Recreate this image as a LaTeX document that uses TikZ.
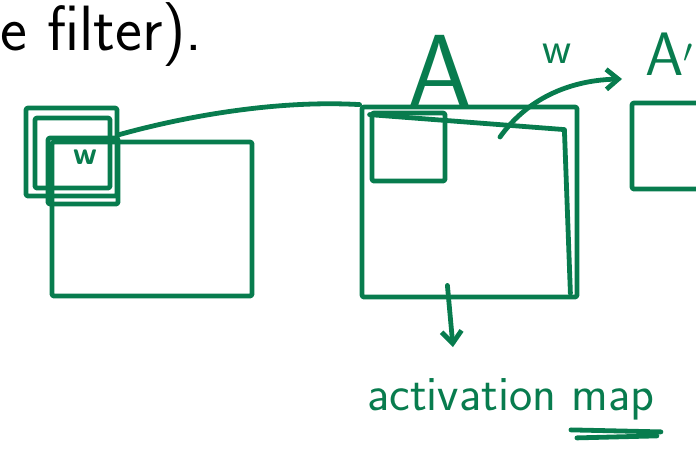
\documentclass[tikz,border=0pt]{standalone}
\usepackage{fontspec}
\usepackage{xcolor}
\usetikzlibrary{positioning,arrows.meta,fit,calc}
\definecolor{ink}{RGB}{8,124,78}

\begin{document}
\begin{tikzpicture}[
    x=0.75pt, y=-0.75pt,
    pen/.style={draw=ink, line width=3.6pt, line cap=round, line join=round},
    sketch/.style={pen, rectangle, inner sep=0pt, rounded corners=1.5pt},
    hand/.style={text=ink, inner sep=0pt, font=\fontsize{#1}{#1}\sffamily},
    hand/.default=27,
    arrow/.style={pen, -{Straight Barb[length=9pt, width=15pt, line width=3.6pt]}},
  ]
  \useasboundingbox (0,0) rectangle (696,454);
  \clip (0,0) rectangle (696,454);

  % Slide text
  \node[anchor=base west, inner sep=0pt, font=\fontsize{48}{50}\sffamily] (caption) at (0,50) {e filter).};

  % Input with the filter on its corner
  \node[sketch, fit={(52,142) (252,296)}] (input) {};
  \node[sketch, fit={(48,138) (118,204)}] (field) {};
  \node[sketch, fit={(26,108) (117,196)}] (fouter) {};
  \node[sketch, fit={(35,118) (110,188)}] (finner) {};
  \node[text=ink, inner sep=0pt, font=\fontsize{24}{24}\sffamily\bfseries] (fw) at (85,157) {w};

  % Convolved layer
  \node[sketch, fit={(362,107) (577,297)}] (conv) {};
  \draw[pen] ($(conv.north west)+(10,10)$) -- ($(conv.north east)+(-15,25)$) -- ($(conv.south east)+(-9,-6)$);
  \node[sketch, fit={(372,113) (445,181)}] (patch) {};
  \node[hand=78, anchor=base] (A) at (440,107) {A};

  % Next layer
  \node[sketch, fit={(632,103) (705,189)}] (outmap) {};
  \node[hand=46, anchor=base west] (Ap) at (645,75) {A$'$};

  % Connectors
  \draw[pen] (fouter.20) .. controls (190,115) and (280,100) .. (conv.north west);
  \coordinate (wstart) at (500,137);
  \coordinate (wtip) at (622,79);
  \draw[arrow] (wstart) .. controls (530,95) and (575,80) .. (wtip);
  \node[hand=34, anchor=base] (wlab) at (557,63) {w};

  \coordinate (actip) at (453,347);
  \draw[arrow] ($(patch.east |- conv.south)+(0,-14)$) -- (actip);

  % Result label
  \node[hand=37, anchor=base west] (act) at (367,410) {activation map};
  \draw[pen] ($(act.south east)+(-84,10)$) -- ($(act.south east)+(6,12)$);
  \draw[pen] ($(act.south east)+(-78,18)$) -- ($(act.south east)+(2,16)$);

\end{tikzpicture}
\end{document}
